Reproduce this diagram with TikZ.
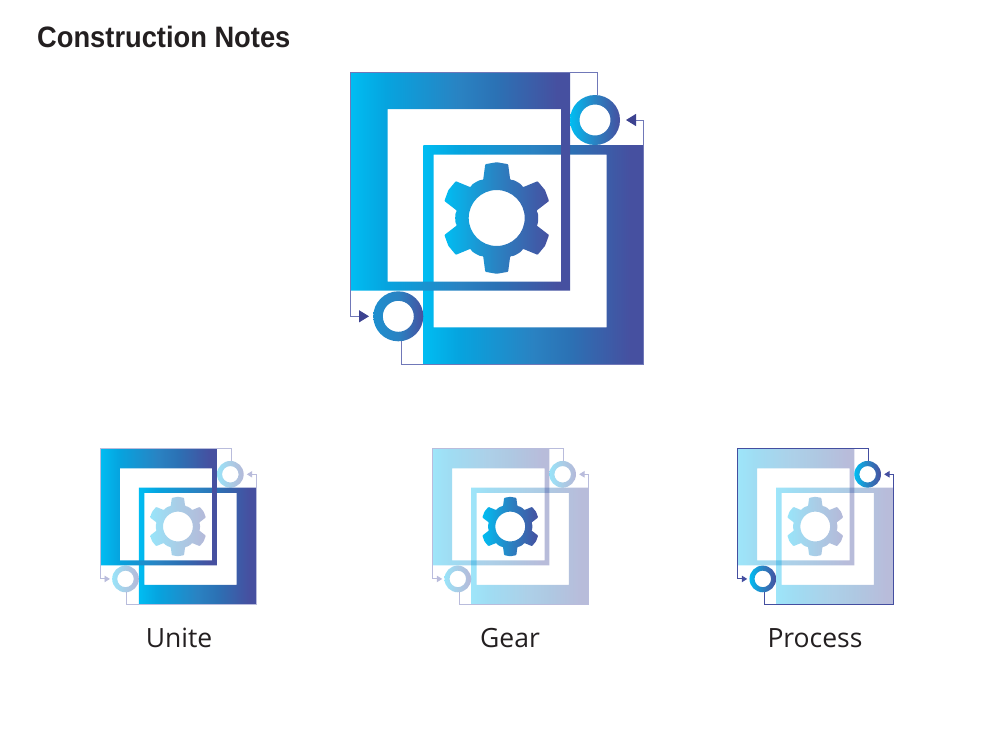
\documentclass[tikz,border=0pt]{standalone}
\usepackage{fontspec}
\usetikzlibrary{arrows.meta}
\setmainfont{Open Sans}
\newfontfamily\titlefont[FakeStretch=0.925]{Liberation Sans}
\definecolor{gA}{HTML}{00BDF2}
\definecolor{gB}{HTML}{06A4DF}
\definecolor{gC}{HTML}{2A82C2}
\definecolor{gD}{HTML}{2B72B5}
\definecolor{gE}{HTML}{4650A0}
\definecolor{gF}{HTML}{1D8FCF}
\definecolor{lineMain}{HTML}{7078B8}
\definecolor{lineLight}{HTML}{B9BCDC}
\definecolor{lineDark}{HTML}{444EA0}
\definecolor{tipMain}{HTML}{3C4290}
\definecolor{inkTitle}{HTML}{231F20}
\pgfdeclarehorizontalshading{brandgrad}{100bp}{color(0bp)=(gA); color(25bp)=(gA); color(33bp)=(gB); color(50bp)=(gC); color(58bp)=(gD); color(72bp)=(gE); color(100bp)=(gE)}
\pgfdeclarehorizontalshading{ringgrad}{100bp}{color(0bp)=(gA); color(25bp)=(gA); color(50bp)=(gC); color(75bp)=(gE); color(100bp)=(gE)}
\pgfdeclarehorizontalshading{ringsoft}{100bp}{color(0bp)=(gF); color(25bp)=(gF); color(50bp)=(gC); color(75bp)=(gE); color(100bp)=(gE)}
\tikzset{
  titletext/.style={anchor=base west,inner sep=0pt,text=inkTitle,font=\titlefont\bfseries\fontsize{29.5}{32}\selectfont},
  paneltext/.style={anchor=base,inner sep=0pt,text=inkTitle,font=\fontsize{26.5}{30}\selectfont},
  framefill/.style={shading=brandgrad,even odd rule,fill opacity=#1,draw=none},
  gearfill/.style={shading=ringgrad,even odd rule,fill opacity=#1,draw=none},
  flowline/.style={line width=#1,line join=miter},
}
% #1 name, #2 x, #3 y, #4 scale, #5 frame opacity, #6 gear opacity, #7 ring opacity, #8 line colour, #9 line width
\newcommand{\iconpanel}[9]{%
  \pgfmathsetmacro{\tipL}{10*#4}\pgfmathsetmacro{\tipW}{12*#4}%
  \begin{scope}[shift={(#2,#3)},scale=#4,shift={(-350.5,-72)}]
    \coordinate (#1-tr) at (595,120);
    \coordinate (#1-bl) at (398.3,316.3);
    \coordinate (#1-tr-out) at (597,95);
    \coordinate (#1-corner-a) at (597,72);
    \coordinate (#1-corner-b) at (350.5,72);
    \coordinate (#1-corner-c) at (350.5,316.3);
    \coordinate (#1-tip-bl) at (369,316.3);
    \coordinate (#1-bl-out) at (401,341);
    \coordinate (#1-corner-d) at (401,364);
    \coordinate (#1-corner-e) at (643.3,364);
    \coordinate (#1-corner-f) at (643.3,120);
    \coordinate (#1-tip-tr) at (626,120);
    % lower-right frame
    \shade[framefill=#5] (423.3,145) rectangle (643.3,364) (433.7,154.7) rectangle (606.7,327.3);
    % upper-left frame
    \shade[framefill=#5] (350.5,72) rectangle (570,290.7) (387.7,109) rectangle (561,281.7);
    % gear
    \begin{scope}[shift={(496.7,218)}]
      \shade[gearfill=#6,rounded corners=0.7pt]
        (11.6:41)
        foreach \a in {30,90,150,210,270,330}{
          -- ({\a-19.5}:40.5) -- ({\a-12}:55) -- (\a:55.8) -- ({\a+12}:55) -- ({\a+19.5}:40.5)
          -- ({\a+24}:41.5) -- ({\a+30}:41.5) -- ({\a+36}:41.5)
        } -- cycle
        (0,0) circle[radius=28];
    \end{scope}
    % connectors
    \draw[flowline=#9,draw=#8,-{Triangle[length=\tipL pt,width=\tipW pt,color=\tipcolor]}]
      (#1-tr-out) -- (#1-corner-a) -- (#1-corner-b) -- (#1-corner-c) -- (#1-tip-bl);
    \draw[flowline=#9,draw=#8,-{Triangle[length=\tipL pt,width=\tipW pt,color=\tipcolor]}]
      (#1-bl-out) -- (#1-corner-d) -- (#1-corner-e) -- (#1-corner-f) -- (#1-tip-tr);
    % rings
    \shade[shading=ringgrad,even odd rule,fill opacity=#7] (#1-tr) circle[radius=25] (#1-tr) circle[radius=15.5];
    \shade[shading=\blring,even odd rule,fill opacity=#7] (#1-bl) circle[radius=25] (#1-bl) circle[radius=15.5];
  \end{scope}%
}
\begin{document}
\begin{tikzpicture}[x=1pt,y=-1pt]
  \useasboundingbox (0,0) rectangle (993,753);
  \fill[white] (0,0) rectangle (993,753);
  \node[titletext] (title) at (37,47.7) {Construction Notes};
  \def\blring{ringsoft}\def\tipcolor{tipMain}
  \iconpanel{main}{350.5}{72}{1}{1}{1}{1}{lineMain}{1pt}
  \def\blring{ringgrad}\def\tipcolor{lineLight}
  \iconpanel{unite}{100}{448.7}{0.533}{1}{0.4}{0.4}{lineLight}{0.9pt}
  \iconpanel{gear}{432.3}{448.7}{0.533}{0.38}{1}{0.4}{lineLight}{0.9pt}
  \def\tipcolor{lineDark}
  \iconpanel{process}{737.3}{448.7}{0.533}{0.38}{0.4}{1}{lineDark}{0.9pt}
  \node[paneltext] (uniteLabel) at (179,647.7) {Unite};
  \node[paneltext] (gearLabel) at (510,647.7) {Gear};
  \node[paneltext] (processLabel) at (815,647.7) {Process};
\end{tikzpicture}
\end{document}
